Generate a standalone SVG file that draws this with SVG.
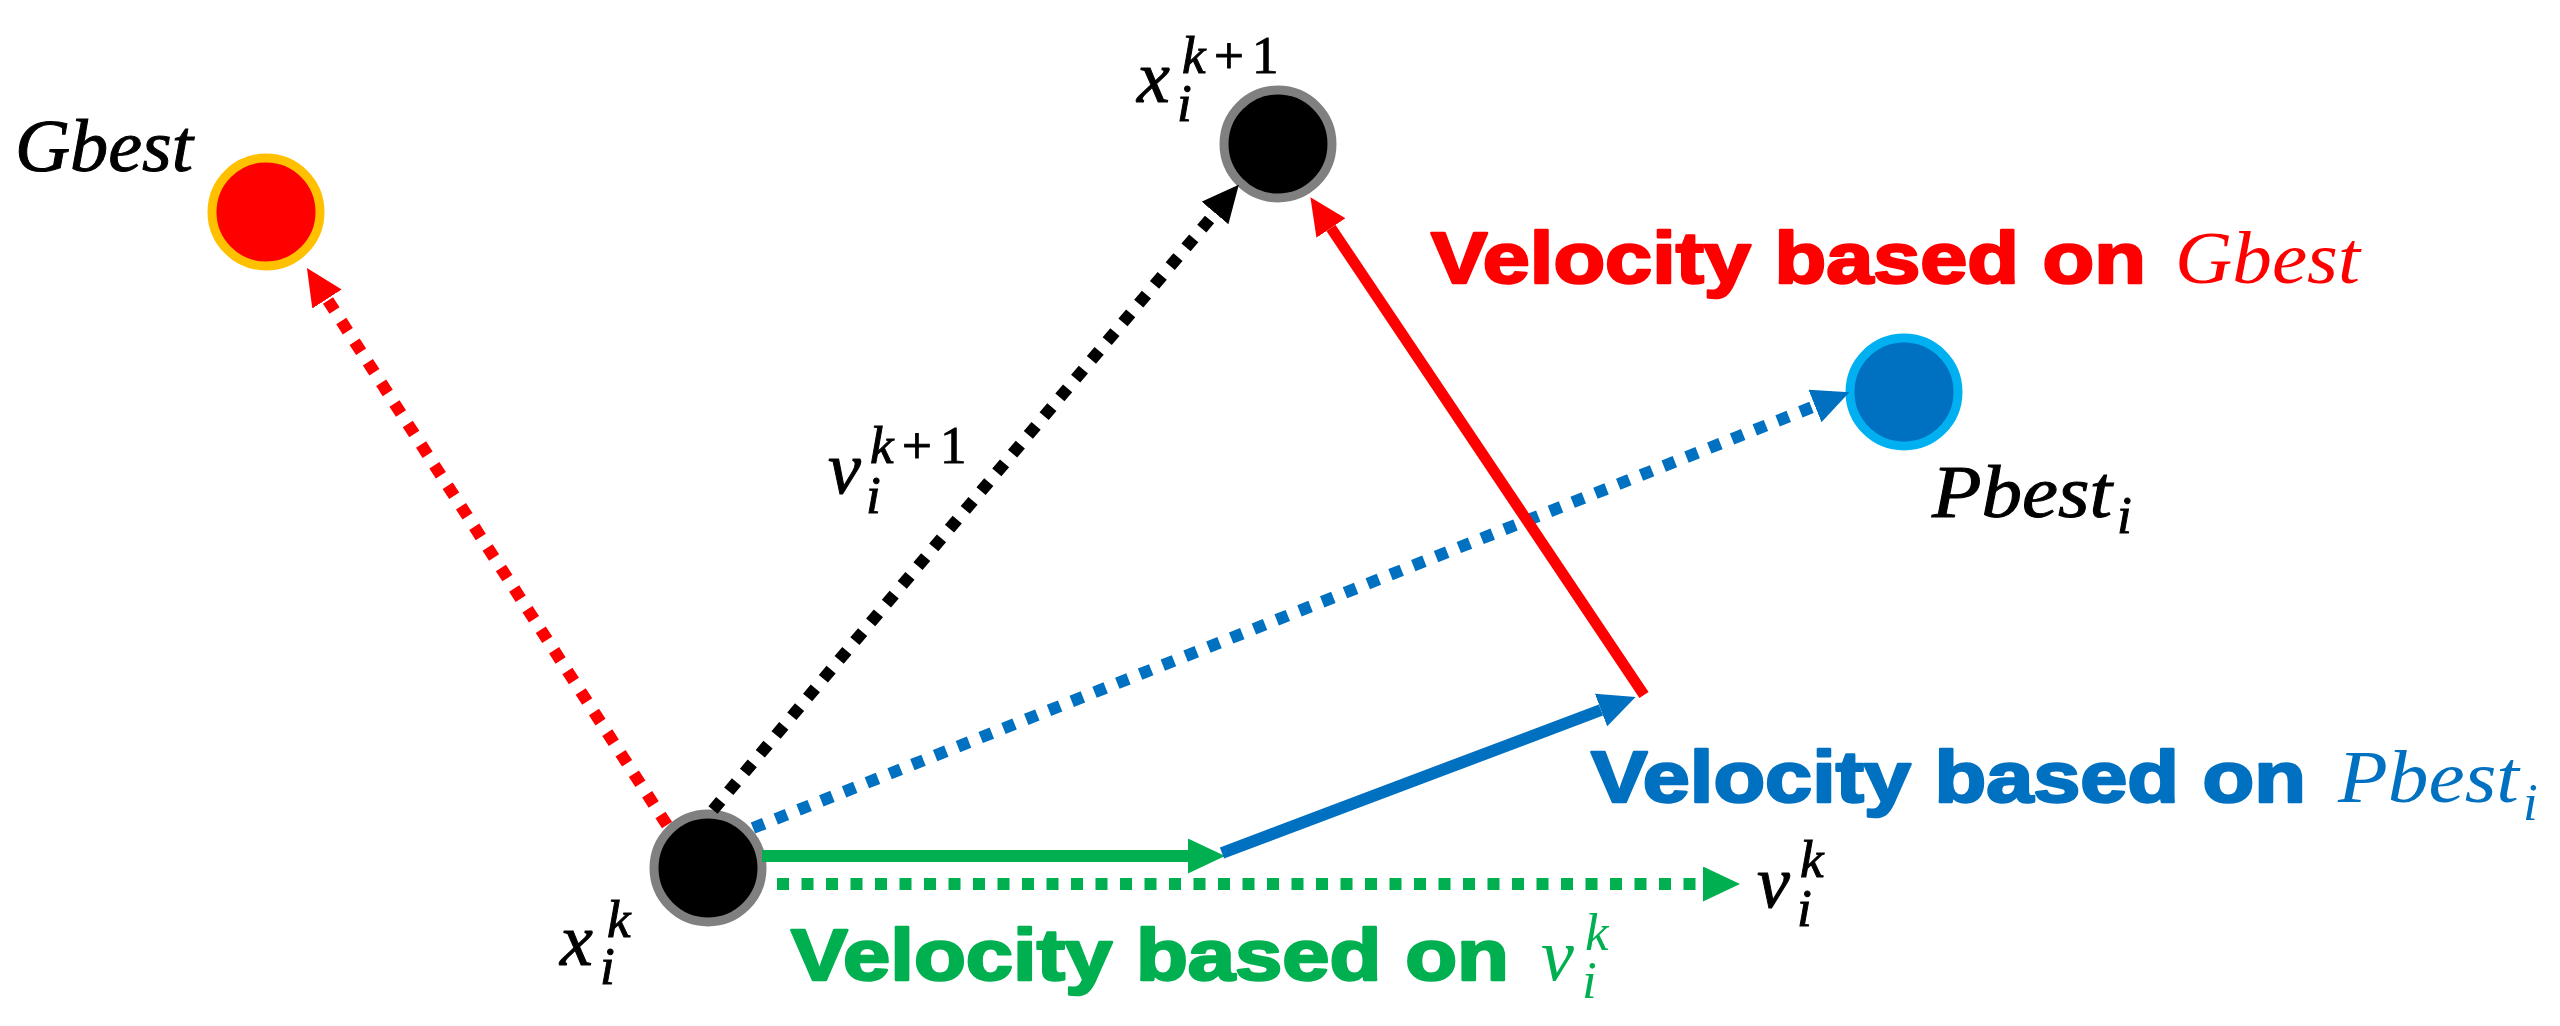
<svg xmlns="http://www.w3.org/2000/svg" width="2560" height="1026" viewBox="0 0 2560 1026">
<style>
.bg{fill:#ffffff}
.node{stroke-width:9}
.math{font-family:"Liberation Serif","DejaVu Serif",serif;font-style:italic;font-size:74px;fill:#000}
.ink{stroke:#000;stroke-width:1}
.up{font-style:normal}
.sub{font-size:53px}
.vel{font-family:"Liberation Sans",Arial,sans-serif;font-weight:bold;font-size:72px;stroke-width:2.5;stroke-linejoin:round}
.dot{fill:none;stroke-width:12;stroke-dasharray:12 12.5;stroke-linecap:butt}
.solid{fill:none;stroke-width:12;stroke-linecap:butt}
.red{stroke:#FF0000;fill:#FF0000}
.blue{stroke:#0070C0;fill:#0070C0}
.green{stroke:#00B050;fill:#00B050}
.black{stroke:#000000;fill:#000000}
</style>
<defs>
<marker id="ahRed" markerUnits="userSpaceOnUse" viewBox="0 0 37 35" markerWidth="37" markerHeight="35" refX="0" refY="17.5" orient="auto"><path d="M0,0 L37,17.5 L0,35 Z" fill="#FF0000"/></marker>
<marker id="ahBlue" markerUnits="userSpaceOnUse" viewBox="0 0 37 35" markerWidth="37" markerHeight="35" refX="0" refY="17.5" orient="auto"><path d="M0,0 L37,17.5 L0,35 Z" fill="#0070C0"/></marker>
<marker id="ahGreen" markerUnits="userSpaceOnUse" viewBox="0 0 37 35" markerWidth="37" markerHeight="35" refX="0" refY="17.5" orient="auto"><path d="M0,0 L37,17.5 L0,35 Z" fill="#00B050"/></marker>
<marker id="ahBlack" markerUnits="userSpaceOnUse" viewBox="0 0 37 35" markerWidth="37" markerHeight="35" refX="0" refY="17.5" orient="auto"><path d="M0,0 L37,17.5 L0,35 Z" fill="#000000"/></marker>
</defs>
<rect class="bg" x="0" y="0" width="2560" height="1026"/>

<g id="gbest">
<circle class="node" cx="266" cy="212" r="54" fill="#FF0000" stroke="#FFC000"/>
<text class="math ink" x="15" y="171" textLength="178" lengthAdjust="spacingAndGlyphs">Gbest</text>
</g>

<g id="x-next">
<circle class="node" cx="1278" cy="144" r="54" fill="#000000" stroke="#808080"/>
<text class="math ink" x="1137" y="102">x</text>
<text class="math sub ink" x="1182" y="73">k</text>
<text class="math sub up ink" x="1214" y="73">+</text>
<text class="math sub up ink" x="1252" y="73">1</text>
<text class="math sub ink" x="1177" y="121">i</text>
</g>

<g id="pbest">
<circle class="node" cx="1904" cy="392" r="54" fill="#0070C0" stroke="#00B0F0"/>
<text class="math ink" x="1932" y="517" textLength="180" lengthAdjust="spacingAndGlyphs">Pbest</text>
<text class="math sub ink" x="2117" y="533">i</text>
</g>

<g id="x-current">
<circle class="node" cx="708" cy="868" r="54" fill="#000000" stroke="#808080"/>
<text class="math ink" x="560" y="965">x</text>
<text class="math sub ink" x="607" y="937">k</text>
<text class="math sub ink" x="600" y="984">i</text>
</g>

<g id="connectors">
<line class="dot red" x1="667" y1="825" x2="327" y2="299" marker-end="url(#ahRed)"/>
<line class="dot black" x1="713" y1="810" x2="1215" y2="213" marker-end="url(#ahBlack)"/>
<line class="dot blue" x1="753" y1="828" x2="1815" y2="406" marker-end="url(#ahBlue)"/>
<line class="dot green" x1="777" y1="884" x2="1703" y2="884" marker-end="url(#ahGreen)"/>
<line class="solid green" x1="762" y1="856" x2="1188" y2="856" marker-end="url(#ahGreen)"/>
<line class="solid blue" x1="1222" y1="853" x2="1601" y2="710" marker-end="url(#ahBlue)"/>
<line class="solid red" x1="1644" y1="695" x2="1331" y2="228" marker-end="url(#ahRed)" style="stroke-width:11"/>
</g>

<g id="label-v-next">
<text class="math ink" x="828" y="493">v</text>
<text class="math sub ink" x="870" y="463">k</text>
<text class="math sub up ink" x="902" y="463">+</text>
<text class="math sub up ink" x="940" y="463">1</text>
<text class="math sub ink" x="866" y="513">i</text>
</g>

<g id="label-v-k">
<text class="math ink" x="1757" y="907">v</text>
<text class="math sub ink" x="1800" y="877">k</text>
<text class="math sub ink" x="1797" y="926">i</text>
</g>

<g id="label-gbest-velocity">
<text class="vel red" x="1431" y="283" textLength="715" lengthAdjust="spacingAndGlyphs">Velocity based on</text>
<text class="math" x="2175" y="283" style="fill:#FF0000" textLength="185" lengthAdjust="spacingAndGlyphs">Gbest</text>
</g>

<g id="label-pbest-velocity">
<text class="vel blue" x="1591" y="802" textLength="715" lengthAdjust="spacingAndGlyphs">Velocity based on</text>
<text class="math" x="2338" y="802" style="fill:#0070C0" textLength="181" lengthAdjust="spacingAndGlyphs">Pbest</text>
<text class="math sub" x="2523" y="820" style="fill:#0070C0">i</text>
</g>

<g id="label-vk-velocity">
<text class="vel green" x="791" y="980" textLength="718" lengthAdjust="spacingAndGlyphs">Velocity based on</text>
<text class="math" x="1541" y="980" style="fill:#00B050">v</text>
<text class="math sub" x="1585" y="950" style="fill:#00B050">k</text>
<text class="math sub" x="1582" y="998" style="fill:#00B050">i</text>
</g>
</svg>
